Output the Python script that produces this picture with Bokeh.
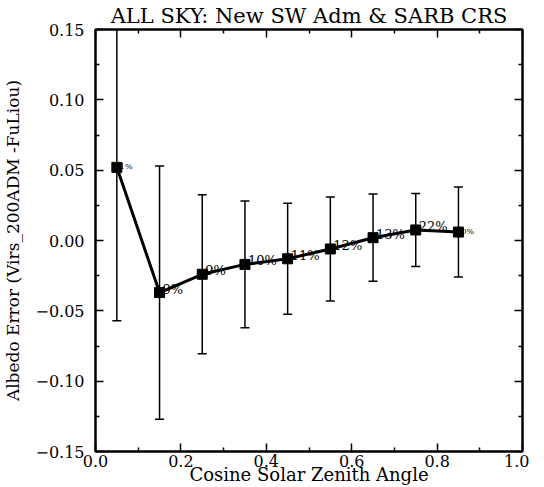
from bokeh.plotting import figure
from bokeh.models import LinearAxis, Range1d, ColumnDataSource, FixedTicker, CustomJSTickFormatter
from bokeh.core.properties import value
from bokeh.embed import file_html
from bokeh.resources import INLINE

cos_sza = [0.05, 0.15, 0.25, 0.35, 0.45, 0.55, 0.65, 0.75, 0.85]
albedo_err = [0.052, -0.037, -0.024, -0.017, -0.013, -0.006, 0.002, 0.0075, 0.006]
err_std = [0.109, 0.090, 0.0565, 0.045, 0.0395, 0.037, 0.031, 0.026, 0.032]
pct_labels = ["1%", "9%", "9%", "10%", "11%", "12%", "13%", "22%", "0%"]
label_size = ["8px", "13px", "13px", "13px", "13px", "13px", "13px", "13px", "8px"]

x_major = [0.0, 0.2, 0.4, 0.6, 0.8, 1.0]
x_minor = [0.1, 0.3, 0.5, 0.7, 0.9]
y_major = [-0.15, -0.10, -0.05, 0.0, 0.05, 0.10, 0.15]
y_minor = [-0.125, -0.075, -0.025, 0.025, 0.075, 0.125]

FONT = "DejaVu Serif"

src = ColumnDataSource(dict(
    x=cos_sza, y=albedo_err,
    lo=[m - s for m, s in zip(albedo_err, err_std)],
    hi=[m + s for m, s in zip(albedo_err, err_std)],
    lab=pct_labels, fs=label_size,
))

p = figure(frame_width=427, frame_height=422, output_backend="svg", toolbar_location=None,
           x_range=Range1d(0.0, 1.0), y_range=Range1d(-0.15, 0.15),
           min_border_left=94, min_border_right=7, min_border_top=27, min_border_bottom=0,
           background_fill_color="white", border_fill_color="white")

p.title.text = "ALL SKY: New SW Adm & SARB CRS"
p.title.align = "center"
p.title.text_font = FONT
p.title.text_font_size = "21px"
p.title.text_font_style = "normal"
p.title.text_color = "black"
p.title.offset = 4
p.title.standoff = 3

p.grid.visible = False
p.outline_line_color = "black"
p.outline_line_width = 2

def style_axis(ax, ticks, minor, labels=True):
    ax.ticker = FixedTicker(ticks=ticks, minor_ticks=minor)
    ax.axis_line_color = "black"
    ax.axis_line_width = 2
    ax.major_tick_in = 8
    ax.major_tick_out = 0
    ax.minor_tick_in = 4
    ax.minor_tick_out = 0
    ax.major_tick_line_width = 1.5
    ax.minor_tick_line_width = 1.5
    ax.major_label_text_font = FONT
    ax.major_label_text_font_size = "16px"
    ax.major_label_text_color = "black"
    ax.axis_label_text_font = FONT
    ax.axis_label_text_font_style = "normal"
    ax.axis_label_text_color = "black"
    if not labels:
        ax.formatter = CustomJSTickFormatter(code="return ''")
        ax.major_label_standoff = 0

xa = p.xaxis[0]
style_axis(xa, x_major, x_minor)
xa.axis_label = "Cosine Solar Zenith Angle"
xa.axis_label_text_font_size = "18px"
xa.major_label_standoff = 3
xa.axis_label_standoff = -6
xa.formatter = CustomJSTickFormatter(code="return tick.toFixed(1)")

ya = p.yaxis[0]
style_axis(ya, y_major, y_minor)
ya.axis_label = "Albedo Error (Virs_200ADM -FuLiou)"
ya.axis_label_text_font_size = "17px"
ya.major_label_standoff = 11
ya.axis_label_standoff = 9
ya.formatter = CustomJSTickFormatter(code="return tick.toFixed(2).replace('-', '\u2212')")

top = LinearAxis()
style_axis(top, x_major, x_minor, labels=False)
p.add_layout(top, "above")
right = LinearAxis()
style_axis(right, y_major, y_minor, labels=False)
p.add_layout(right, "right")

# error bars
p.segment(x0="x", y0="lo", x1="x", y1="hi", source=src, line_color="black", line_width=1.5)
p.scatter(x="x", y="lo", source=src, marker="dash", size=9, line_color="black", line_width=1.5)
p.scatter(x="x", y="hi", source=src, marker="dash", size=9, line_color="black", line_width=1.5)

# data line and markers
p.line(x="x", y="y", source=src, line_color="black", line_width=3)
p.scatter(x="x", y="y", source=src, marker="square", size=10, fill_color="black", line_color="black")

p.text(x="x", y="y", text="lab", source=src, text_font=value(FONT), text_font_size="fs",
       text_color="black", text_baseline="bottom", text_align="left", x_offset=3, y_offset=4)

open("out.html", "w").write(file_html(p, INLINE))
